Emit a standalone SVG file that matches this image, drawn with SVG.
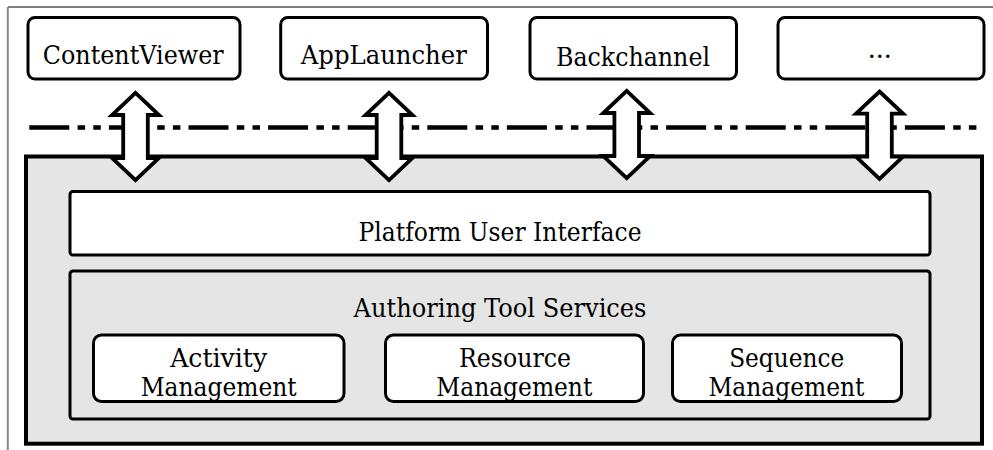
<svg xmlns="http://www.w3.org/2000/svg" xmlns:xlink="http://www.w3.org/1999/xlink" width="993" height="450" viewBox="0 0 993 450">
<style>
text{font-family:'DejaVu Serif',serif;font-size:26.5px;fill:#000;text-anchor:middle}
.top{fill:#fff;stroke:#000;stroke-width:3}
.mod{fill:#fff;stroke:#000;stroke-width:3}
.arr{fill:#fff;stroke:#000;stroke-width:3.8;stroke-linejoin:miter;stroke-miterlimit:10}
</style>
<defs>
<path id="dbl" d="M0,92.8 L23.5,115 L12.3,115 L12.3,158 L23.5,158 L0,180.2 L-23.5,158 L-12.3,158 L-12.3,115 L-23.5,115 Z"/>
</defs>
<rect width="993" height="450" fill="#fff"/>
<g id="page">
<line x1="8" y1="7" x2="993" y2="7" stroke="#000" stroke-width="1"/>
<line x1="7.8" y1="7" x2="7.8" y2="450" stroke="#888" stroke-width="2"/>
</g>
<g id="boundary">
<line x1="29.3" y1="127.5" x2="978" y2="127.5" stroke="#000" stroke-width="4.5" stroke-dasharray="40 8.3 7.5 8.2 7.5 8.1"/>
</g>
<g id="platform">
<rect x="26" y="156.5" width="956" height="287.2" fill="#e5e5e5" stroke="#000" stroke-width="4"/>
</g>
<g id="platform-ui">
<rect x="70" y="191.5" width="860" height="63.5" rx="3" fill="#fff" stroke="#000" stroke-width="3"/>
<text x="500" y="241" textLength="283" lengthAdjust="spacingAndGlyphs">Platform User Interface</text>
</g>
<g id="authoring">
<rect x="70" y="271" width="860" height="148" rx="3" fill="#e5e5e5" stroke="#000" stroke-width="3"/>
<text x="500" y="316.7" textLength="293" lengthAdjust="spacingAndGlyphs">Authoring Tool Services</text>
</g>
<g id="activity">
<rect class="mod" x="93.5" y="335" width="250.5" height="66.5" rx="8"/>
<text x="218.7" y="366.7" textLength="97" lengthAdjust="spacingAndGlyphs">Activity</text>
<text x="218.7" y="396" textLength="156" lengthAdjust="spacingAndGlyphs">Management</text>
</g>
<g id="resource">
<rect class="mod" x="385.5" y="335" width="258" height="66.5" rx="8"/>
<text x="515" y="366.7" textLength="112" lengthAdjust="spacingAndGlyphs">Resource</text>
<text x="514.3" y="396" textLength="156" lengthAdjust="spacingAndGlyphs">Management</text>
</g>
<g id="sequence">
<rect class="mod" x="672.5" y="335" width="229" height="66.5" rx="8"/>
<text x="786.7" y="366.7" textLength="115" lengthAdjust="spacingAndGlyphs">Sequence</text>
<text x="786.4" y="396" textLength="156" lengthAdjust="spacingAndGlyphs">Management</text>
</g>
<g id="connectors">
<use xlink:href="#dbl" class="arr" transform="translate(135.5,0)"/>
<use xlink:href="#dbl" class="arr" transform="translate(389,0)"/>
<use xlink:href="#dbl" class="arr" transform="translate(626.7,-2)"/>
<use xlink:href="#dbl" class="arr" transform="translate(879.5,-1.3)"/>
</g>
<g id="contentviewer">
<rect class="top" x="28" y="17.5" width="212" height="61.5" rx="7"/>
<text x="133.2" y="64" textLength="181" lengthAdjust="spacingAndGlyphs">ContentViewer</text>
</g>
<g id="applauncher">
<rect class="top" x="280.7" y="17.5" width="206.8" height="61.5" rx="7"/>
<text x="383.8" y="63.5" textLength="166" lengthAdjust="spacingAndGlyphs">AppLauncher</text>
</g>
<g id="backchannel">
<rect class="top" x="530" y="17.5" width="206.5" height="61.5" rx="7"/>
<text x="633" y="65.5" textLength="154" lengthAdjust="spacingAndGlyphs">Backchannel</text>
</g>
<g id="more">
<rect class="top" x="778" y="17.5" width="206" height="61.5" rx="7"/>
<text x="879.7" y="57.5" textLength="24" lengthAdjust="spacingAndGlyphs">...</text>
</g>
</svg>
